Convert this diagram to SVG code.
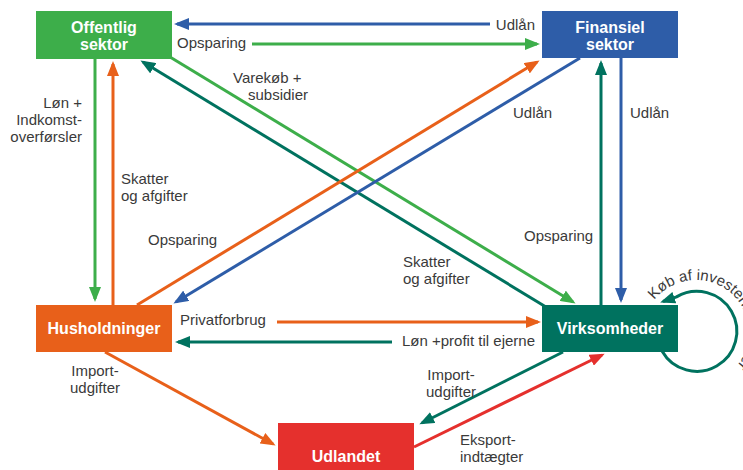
<svg xmlns="http://www.w3.org/2000/svg" width="743" height="470" viewBox="0 0 743 470">
<style>
.lbl{font-family:"Liberation Sans",Arial,sans-serif;font-size:15px;fill:#3a3a3a}
.nl{font-family:"Liberation Sans",Arial,sans-serif;font-size:16px;font-weight:bold;fill:#ffffff;text-anchor:middle}
.c{fill:none;stroke-width:3}
.g{stroke:#3dae4a}.b{stroke:#2e5da8}.o{stroke:#e8601a}.t{stroke:#00725f}.r{stroke:#e5302d}
</style>
<defs>
<marker id="ag" viewBox="0 0 5 4" refX="4" refY="2" markerWidth="5" markerHeight="4" orient="auto"><path d="M0,0 L5,2 L0,4 z" fill="#3dae4a"/></marker>
<marker id="ab" viewBox="0 0 5 4" refX="4" refY="2" markerWidth="5" markerHeight="4" orient="auto"><path d="M0,0 L5,2 L0,4 z" fill="#2e5da8"/></marker>
<marker id="ao" viewBox="0 0 5 4" refX="4" refY="2" markerWidth="5" markerHeight="4" orient="auto"><path d="M0,0 L5,2 L0,4 z" fill="#e8601a"/></marker>
<marker id="at" viewBox="0 0 5 4" refX="4" refY="2" markerWidth="5" markerHeight="4" orient="auto"><path d="M0,0 L5,2 L0,4 z" fill="#00725f"/></marker>
<marker id="ar" viewBox="0 0 5 4" refX="4" refY="2" markerWidth="5" markerHeight="4" orient="auto"><path d="M0,0 L5,2 L0,4 z" fill="#e5302d"/></marker>
<path id="loopText" d="M654.3,300.2 A53,53 0 0 1 746.3,349.6 A53,53 0 0 1 662.4,372.1"/>
</defs>

<g id="connectors">
<line class="c b" x1="490" y1="24" x2="177" y2="24" marker-end="url(#ab)"/>
<line class="c g" x1="252" y1="44" x2="537" y2="44" marker-end="url(#ag)"/>
<line class="c g" x1="95" y1="59" x2="95" y2="299" marker-end="url(#ag)"/>
<line class="c o" x1="113" y1="305" x2="113" y2="64" marker-end="url(#ao)"/>
<line class="c t" x1="546" y1="307" x2="143" y2="62" marker-end="url(#at)"/>
<line class="c g" x1="170" y1="57" x2="573" y2="302" marker-end="url(#ag)"/>
<line class="c o" x1="137" y1="305" x2="537" y2="62" marker-end="url(#ao)"/>
<line class="c b" x1="580" y1="58" x2="176" y2="302" marker-end="url(#ab)"/>
<line class="c t" x1="601" y1="305" x2="601" y2="63" marker-end="url(#at)"/>
<line class="c b" x1="621" y1="58" x2="621" y2="300" marker-end="url(#ab)"/>
<line class="c o" x1="277" y1="322" x2="538" y2="322" marker-end="url(#ao)"/>
<line class="c t" x1="392" y1="342" x2="178" y2="342" marker-end="url(#at)"/>
<line class="c o" x1="105" y1="352" x2="273" y2="444" marker-end="url(#ao)"/>
<line class="c t" x1="563" y1="352" x2="422" y2="423" marker-end="url(#at)"/>
<line class="c r" x1="414" y1="447" x2="602" y2="355" marker-end="url(#ar)"/>
<path class="c t" d="M662,351 A40,40 0 1 0 676.5,296.9 L663,301.5" marker-end="url(#at)"/>
</g>

<g id="labels">
<text class="lbl" x="535" y="30" text-anchor="end">Udlån</text>
<text class="lbl" x="177" y="48">Opsparing</text>
<text class="lbl" x="233" y="83">Varekøb +</text>
<text class="lbl" x="248" y="100">subsidier</text>
<text class="lbl" x="82" y="108" text-anchor="end">Løn +</text>
<text class="lbl" x="82" y="125" text-anchor="end">Indkomst-</text>
<text class="lbl" x="82" y="142" text-anchor="end">overførsler</text>
<text class="lbl" x="121" y="184">Skatter</text>
<text class="lbl" x="121" y="201">og afgifter</text>
<text class="lbl" x="148" y="245">Opsparing</text>
<text class="lbl" x="513" y="118">Udlån</text>
<text class="lbl" x="630" y="118">Udlån</text>
<text class="lbl" x="524" y="241">Opsparing</text>
<text class="lbl" x="403" y="267">Skatter</text>
<text class="lbl" x="403" y="284">og afgifter</text>
<text class="lbl" x="180" y="325">Privatforbrug</text>
<text class="lbl" x="535" y="346" text-anchor="end">Løn +profit til ejerne</text>
<text class="lbl" x="95" y="376" text-anchor="middle">Import-</text>
<text class="lbl" x="95" y="393" text-anchor="middle">udgifter</text>
<text class="lbl" x="451" y="380" text-anchor="middle">Import-</text>
<text class="lbl" x="451" y="397" text-anchor="middle">udgifter</text>
<text class="lbl" x="460" y="445">Eksport-</text>
<text class="lbl" x="460" y="462">indtægter</text>
<text class="lbl"><textPath href="#loopText">Køb af investeringsgoder</textPath></text>
</g>

<g id="offentlig">
<rect x="36" y="11" width="136" height="48" fill="#3dae4a"/>
<text class="nl" x="104" y="33">Offentlig</text>
<text class="nl" x="104" y="50">sektor</text>
</g>
<g id="finansiel">
<rect x="542" y="11" width="136" height="47" fill="#2e5da8"/>
<text class="nl" x="610" y="33">Finansiel</text>
<text class="nl" x="610" y="50">sektor</text>
</g>
<g id="husholdninger">
<rect x="36" y="305" width="136" height="47" fill="#e8601a"/>
<text class="nl" x="104" y="334">Husholdninger</text>
</g>
<g id="virksomheder">
<rect x="542" y="305" width="136" height="47" fill="#00725f"/>
<text class="nl" x="610" y="334">Virksomheder</text>
</g>
<g id="udlandet">
<rect x="278" y="423" width="136" height="50" fill="#e5302d"/>
<text class="nl" x="346" y="462">Udlandet</text>
</g>
</svg>
